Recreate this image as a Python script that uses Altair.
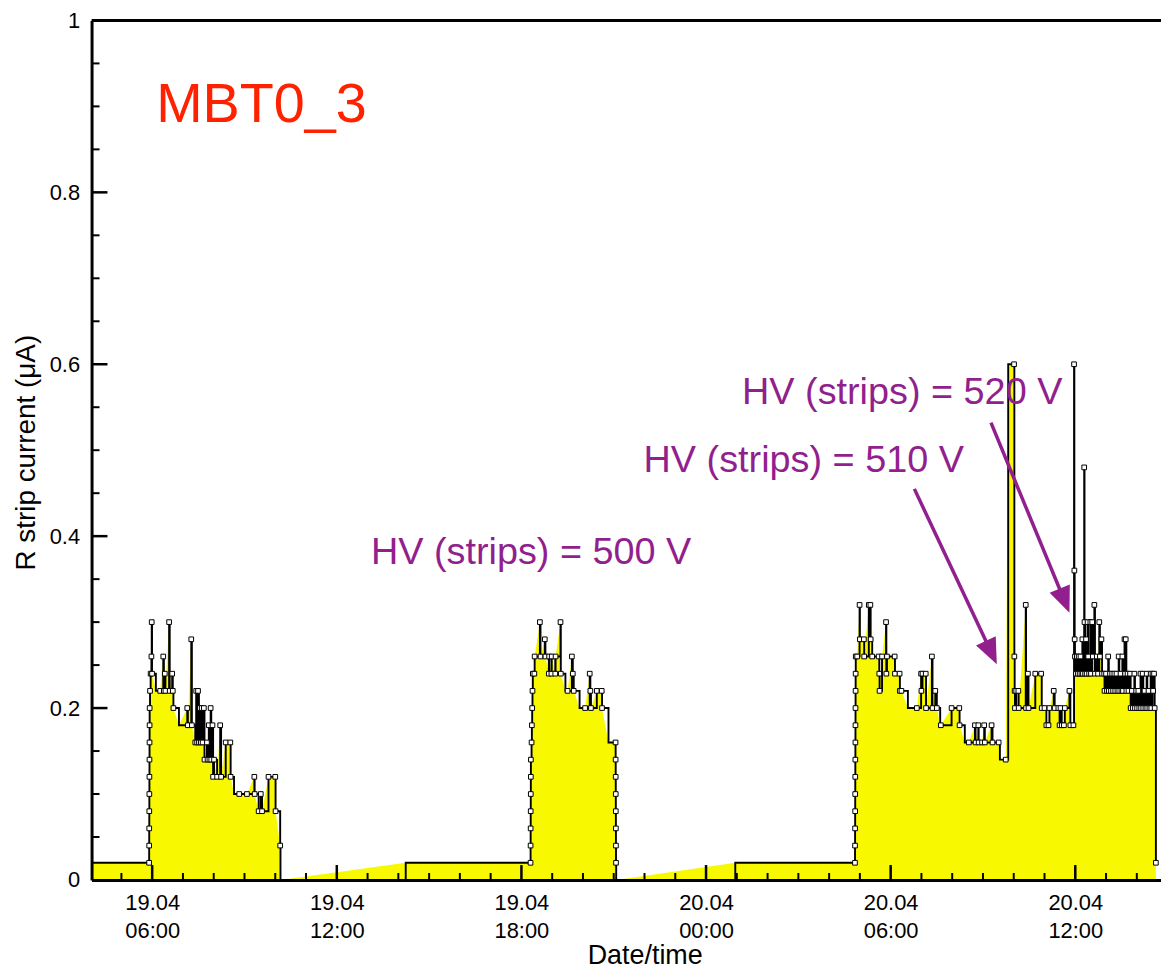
import altair as alt
import pandas as pd

# ---------------- data ----------------
# time: hours after 19.04 00:00 ; current: R strip current in uA
lead_t = [4.03]
lead_v = [0.02]

ep1_t = [5.900, 5.902, 5.904, 5.906, 5.908, 5.910, 5.912, 5.914, 5.916, 5.918, 5.930, 5.950,
         5.975, 5.985, 5.995, 6.120, 6.260, 6.360, 6.380, 6.410, 6.430, 6.550, 6.570, 6.650,
         6.670, 6.690, 6.870, 7.140, 7.160, 7.270, 7.290, 7.400, 7.430, 7.460, 7.490, 7.520,
         7.550, 7.580, 7.610, 7.640, 7.680, 7.700, 7.780, 7.800, 7.840, 7.860, 7.900, 7.920,
         7.960, 7.980, 8.010, 8.110, 8.210, 8.240, 8.390, 8.540, 8.550, 8.660, 8.830, 9.080,
         9.320, 9.330, 9.460, 9.530, 9.570, 9.780, 10.000, 10.010, 10.160, 10.170]
ep1_v = [0.02, 0.04, 0.06, 0.08, 0.10, 0.12, 0.14, 0.16, 0.18, 0.20, 0.22, 0.24,
         0.26, 0.30, 0.24, 0.22, 0.22, 0.26, 0.22, 0.24, 0.22, 0.30, 0.22, 0.24,
         0.22, 0.20, 0.18, 0.20, 0.18, 0.28, 0.18, 0.16, 0.22, 0.16, 0.22, 0.16,
         0.20, 0.16, 0.20, 0.16, 0.20, 0.14, 0.16, 0.14, 0.18, 0.14, 0.20, 0.14,
         0.18, 0.12, 0.14, 0.12, 0.18, 0.12, 0.16, 0.16, 0.12, 0.10, 0.10, 0.10,
         0.12, 0.10, 0.08, 0.10, 0.08, 0.12, 0.12, 0.08, 0.04, 0.00]

gap1_t = [14.24]
gap1_v = [0.02]

ep2_t = [18.296, 18.298, 18.300, 18.302, 18.304, 18.306, 18.308, 18.330, 18.340, 18.350, 18.360, 18.370,
         18.420, 18.430, 18.600, 18.620, 18.760, 18.780, 18.890, 18.900, 18.975, 18.985, 19.100, 19.110,
         19.270, 19.280, 19.430, 19.500, 19.640, 19.670, 19.700, 19.890, 20.070, 20.220, 20.240, 20.260,
         20.450, 20.610, 20.620, 20.830, 21.060, 21.062, 21.064, 21.066, 21.068, 21.070, 21.072, 21.074, 21.080]
ep2_v = [0.02, 0.04, 0.06, 0.08, 0.10, 0.12, 0.14, 0.16, 0.18, 0.20, 0.22, 0.24,
         0.24, 0.26, 0.30, 0.26, 0.28, 0.26, 0.24, 0.26, 0.24, 0.26, 0.24, 0.26,
         0.30, 0.24, 0.22, 0.22, 0.26, 0.24, 0.22, 0.20, 0.20, 0.24, 0.22, 0.20,
         0.22, 0.22, 0.20, 0.16, 0.16, 0.14, 0.12, 0.10, 0.08, 0.06, 0.04, 0.02, 0.00]

gap2_t = [24.95]
gap2_v = [0.02]

ep3_t = [28.840, 28.842, 28.844, 28.846, 28.848, 28.850, 28.852, 28.854, 28.856, 28.858, 28.860, 28.862,
         28.866, 28.910, 28.990, 29.000, 29.130, 29.140, 29.290, 29.340, 29.350, 29.400, 29.610, 29.630,
         29.640, 29.720, 29.850, 29.860, 29.880, 30.130, 30.140, 30.290, 30.300, 30.350, 30.560, 30.850,
         30.990, 31.000, 31.035, 31.140, 31.150, 31.340, 31.360, 31.450, 31.500, 31.610, 31.630, 31.980,
         32.230, 32.240, 32.410, 32.540, 32.740, 32.760, 32.850, 32.860, 32.970, 33.040, 33.060, 33.280,
         33.310, 33.510, 33.550, 33.740, 33.820, 34.010, 34.020, 34.030, 34.040, 34.080, 34.150, 34.160,
         34.390, 34.400, 34.460, 34.480, 34.700, 34.890, 34.910, 35.000, 35.060, 35.130, 35.160, 35.300,
         35.330, 35.450, 35.490, 35.520, 35.560, 35.630, 35.660, 35.810, 35.840, 35.940, 35.960, 35.970,
         35.980, 35.990, 36.020, 36.050, 36.080, 36.110, 36.140, 36.170, 36.200, 36.230, 36.250, 36.290,
         36.300, 36.320, 36.350, 36.370, 36.400, 36.420, 36.450, 36.490, 36.510, 36.550, 36.570, 36.620,
         36.640, 36.700, 36.740, 36.780, 36.800, 36.850, 36.870, 36.940, 36.950, 37.000, 37.030, 37.070,
         37.090, 37.130, 37.160, 37.200, 37.230, 37.270, 37.300, 37.340, 37.370, 37.410, 37.430, 37.470,
         37.500, 37.530, 37.550, 37.600, 37.620, 37.640, 37.660, 37.700, 37.730, 37.780, 37.800, 37.840,
         37.870, 37.920, 37.940, 37.980, 38.010, 38.050, 38.080, 38.120, 38.140, 38.190, 38.210, 38.250,
         38.280, 38.320, 38.340, 38.380, 38.410, 38.450, 38.470, 38.510, 38.530, 38.560, 38.580, 38.620]
ep3_v = [0.02, 0.04, 0.06, 0.08, 0.10, 0.12, 0.14, 0.16, 0.18, 0.20, 0.22, 0.24,
         0.26, 0.26, 0.32, 0.28, 0.28, 0.26, 0.32, 0.32, 0.28, 0.26, 0.26, 0.24,
         0.22, 0.26, 0.30, 0.24, 0.26, 0.26, 0.24, 0.24, 0.22, 0.22, 0.20, 0.20,
         0.24, 0.22, 0.24, 0.24, 0.20, 0.26, 0.20, 0.22, 0.20, 0.18, 0.18, 0.20,
         0.20, 0.18, 0.16, 0.16, 0.18, 0.16, 0.18, 0.16, 0.16, 0.18, 0.16, 0.18,
         0.16, 0.16, 0.14, 0.14, 0.60, 0.60, 0.26, 0.22, 0.20, 0.22, 0.22, 0.20,
         0.32, 0.20, 0.24, 0.20, 0.24, 0.24, 0.20, 0.20, 0.18, 0.18, 0.20, 0.22,
         0.20, 0.20, 0.18, 0.20, 0.18, 0.18, 0.20, 0.22, 0.18, 0.18, 0.60, 0.36,
         0.28, 0.26, 0.24, 0.26, 0.24, 0.26, 0.24, 0.26, 0.24, 0.28, 0.24, 0.48,
         0.30, 0.24, 0.28, 0.24, 0.30, 0.26, 0.24, 0.30, 0.24, 0.30, 0.26, 0.32,
         0.24, 0.26, 0.24, 0.30, 0.26, 0.28, 0.24, 0.24, 0.22, 0.24, 0.22, 0.26,
         0.22, 0.24, 0.22, 0.24, 0.22, 0.24, 0.22, 0.24, 0.22, 0.26, 0.22, 0.24,
         0.22, 0.26, 0.22, 0.28, 0.24, 0.28, 0.22, 0.24, 0.22, 0.24, 0.20, 0.22,
         0.20, 0.24, 0.20, 0.22, 0.20, 0.22, 0.20, 0.24, 0.20, 0.24, 0.20, 0.22,
         0.20, 0.24, 0.20, 0.22, 0.20, 0.24, 0.20, 0.24, 0.22, 0.24, 0.20, 0.02]

# samples drawn without a square marker
unmarked_t = [4.03, 6.12, 6.87, 8.66, 10.17, 14.24, 19.43, 19.89, 20.83, 21.08,
              24.95, 30.56, 31.61, 32.41, 33.55, 33.82]

# axis ticks
x_major = [6, 12, 18, 24, 30, 36]
x_minor = [5, 7, 8, 9, 10, 11, 13, 14, 15, 16, 17, 19, 20, 21, 22, 23, 25, 26, 27, 28,
           29, 31, 32, 33, 34, 35, 37, 38]
y_labels = [0, 0.2, 0.4, 0.6, 0.8, 1]
y_major = [0.2, 0.4, 0.6, 0.8]
y_minor = [0.05, 0.1, 0.15, 0.25, 0.3, 0.35, 0.45, 0.5, 0.55, 0.65, 0.7, 0.75, 0.85, 0.9, 0.95]

# annotations (data units)
title_t = [6.13]
title_v = [0.882]
title_s = ["MBT0_3"]

hv_t = [13.11, 21.97, 25.17]
hv_v = [0.368, 0.475, 0.554]
hv_s = ["HV (strips) = 500 V", "HV (strips) = 510 V", "HV (strips) = 520 V"]

arrow_t = [30.77, 33.26]
arrow_v = [0.455, 0.532]
arrow_t2 = [33.28, 35.66]
arrow_v2 = [0.264, 0.324]
head_t = [33.45, 35.81]
head_v = [0.251, 0.311]
head_angle = [155, 158]

# ---------------- build ----------------
T = lead_t + ep1_t + gap1_t + ep2_t + gap2_t + ep3_t
V = lead_v + ep1_v + gap1_v + ep2_v + gap2_v + ep3_v
unm = set(round(u, 3) for u in unmarked_t)
M = [0 if round(t, 3) in unm else 1 for t in T]
df = pd.DataFrame({"t": T, "v": V, "m": M})

FONT = "Liberation Sans"
YELLOW = "#F8F800"
PURPLE = "#921F8E"
RED = "#FF2200"

W, H = 1075, 864
PX_PER_H = 30.93
X0 = 4.03
X1 = X0 + W / PX_PER_H

xs = alt.Scale(domain=[X0, X1], nice=False, zero=False)
ys = alt.Scale(domain=[0, 1], nice=False)

x_axis = alt.Axis(
    values=x_major,
    labelExpr="[datum.value < 24 ? '19.04' : '20.04', (datum.value % 24 < 10 ? '0' : '') + (datum.value % 24) + ':00']",
    ticks=False, tickSize=0, grid=False,
    domainColor="black", domainWidth=3,
    labelColor="black", labelFontSize=22, labelPadding=13, labelLineHeight=28,
    labelBaseline="top", labelFlush=False, labelOverlap=False,
    title="Date/time", titleColor="black", titleFontSize=27, titleFontWeight="normal",
    titleX=556, titleY=84, titleAlign="center", titleBaseline="alphabetic",
    zindex=1,
)
y_axis = alt.Axis(
    values=y_labels, format=".1~f",
    ticks=False, tickSize=0, grid=False,
    domainColor="black", domainWidth=3,
    labelColor="black", labelFontSize=22, labelPadding=12,
    labelFlush=False, labelOverlap=False,
    title="R strip current (μA)", titleColor="black", titleFontSize=28,
    titleFontWeight="normal", titleAngle=270, titleX=-57, titleY=434,
    titleAlign="center", titleBaseline="alphabetic",
    zindex=1,
)


def X(f="t:Q"):
    return alt.X(f, scale=xs, axis=x_axis)


def Y(f="v:Q"):
    return alt.Y(f, scale=ys, axis=y_axis)


area = alt.Chart(df).mark_area(color=YELLOW, interpolate="linear", opacity=1).encode(
    x=X(), y=Y())

xt_minor = alt.Chart(pd.DataFrame({"t": x_minor})).mark_rule(color="black", strokeWidth=2).encode(
    x=X(), y=alt.value(H), y2=alt.value(H - 7))
xt_major = alt.Chart(pd.DataFrame({"t": x_major})).mark_rule(color="black", strokeWidth=2.5).encode(
    x=X(), y=alt.value(H), y2=alt.value(H - 15))
yt_minor = alt.Chart(pd.DataFrame({"v": y_minor})).mark_rule(color="black", strokeWidth=2).encode(
    y=Y(), x=alt.value(0), x2=alt.value(8))
yt_major = alt.Chart(pd.DataFrame({"v": y_major})).mark_rule(color="black", strokeWidth=2.5).encode(
    y=Y(), x=alt.value(0), x2=alt.value(16))

step = alt.Chart(df).mark_line(color="black", strokeWidth=1.9, interpolate="step-after").encode(
    x=X(), y=Y())

pts = alt.Chart(df).transform_filter("datum.m == 1").mark_point(
    shape="square", filled=True, fill="white", stroke="black", strokeWidth=1,
    size=22, opacity=1).encode(x=X(), y=Y())

title = alt.Chart(pd.DataFrame({"t": title_t, "v": title_v, "s": title_s})).mark_text(
    align="left", baseline="alphabetic", fontSize=56, color=RED).encode(
    x=X(), y=Y(), text="s:N")

hv = alt.Chart(pd.DataFrame({"t": hv_t, "v": hv_v, "s": hv_s})).mark_text(
    align="left", baseline="alphabetic", fontSize=38, color=PURPLE).encode(
    x=X(), y=Y(), text="s:N")

arrows = alt.Chart(pd.DataFrame({"t": arrow_t, "v": arrow_v, "t2": arrow_t2, "v2": arrow_v2})).mark_rule(
    color=PURPLE, strokeWidth=3.5).encode(x=X(), y=Y(), x2="t2:Q", y2="v2:Q")

heads = alt.Chart(pd.DataFrame({"t": head_t, "v": head_v, "a": head_angle})).mark_point(
    shape="M0,0L0.42,1L-0.42,1Z", filled=True, color=PURPLE, size=2704, opacity=1,
    strokeWidth=0).encode(x=X(), y=Y(), angle=alt.Angle("a:Q", scale=None))

frame_top = alt.Chart(pd.DataFrame({"v": [1.0]})).mark_rule(color="black", strokeWidth=3).encode(
    y=Y(), x=alt.value(0), x2=alt.value(W))

chart = alt.layer(
    area, xt_minor, xt_major, yt_minor, yt_major, step, pts, title, hv, arrows, heads, frame_top
).properties(
    width=W, height=H,
    autosize=alt.AutoSizeParams(type="none"),
    padding={"left": 84, "top": 10, "right": 0, "bottom": 89},
).configure(font=FONT).configure_view(stroke="transparent")

chart.save("out.html", embed_options={"renderer": "svg", "actions": False})
